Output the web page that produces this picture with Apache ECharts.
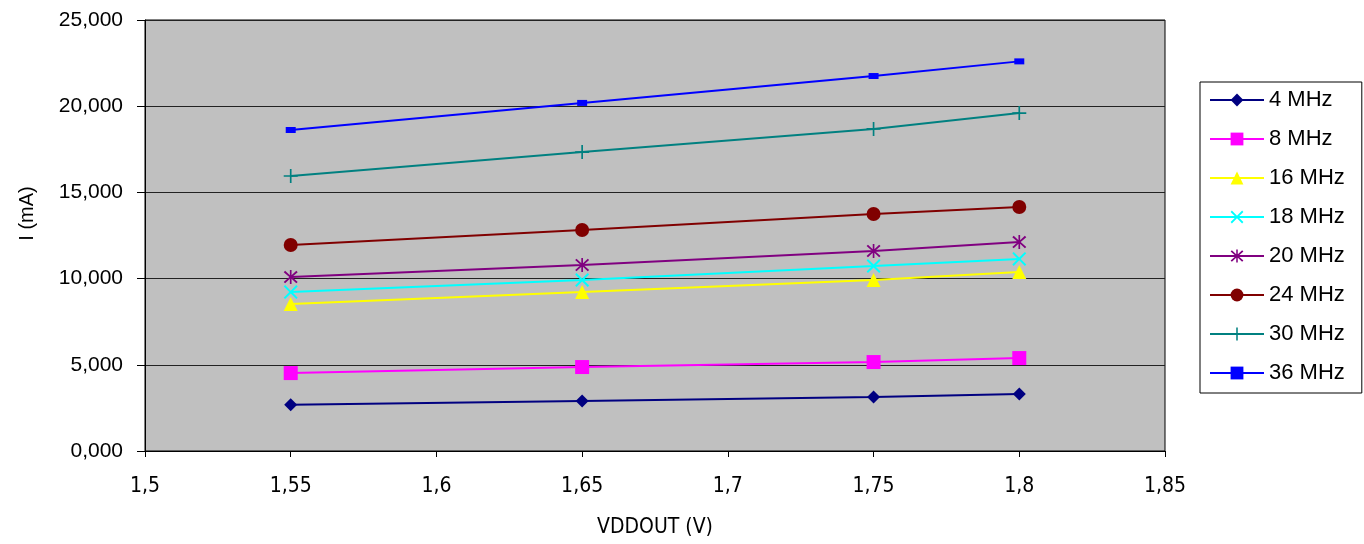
<!doctype html>
<html>
<head>
<meta charset="utf-8">
<title>I vs VDDOUT</title>
<script src="https://cdn.jsdelivr.net/npm/echarts@6/dist/echarts.min.js"></script>
<style>
  html, body { margin: 0; padding: 0; background: #fff; }
  #main { width: 1364px; height: 544px; }
</style>
</head>
<body>
<div id="main"></div>
<script type="text/javascript">
// x values (VDDOUT, V)
var vdd = [1.55, 1.65, 1.75, 1.8];

// current (mA) per frequency
var mhz4  = [2.68, 2.90, 3.13, 3.31];
var mhz8  = [4.52, 4.87, 5.16, 5.39];
var mhz16 = [8.53, 9.22, 9.92, 10.38];
var mhz18 = [9.22, 9.92, 10.73, 11.14];
var mhz20 = [10.09, 10.79, 11.60, 12.12];
var mhz24 = [11.95, 12.82, 13.75, 14.15];
var mhz30 = [15.95, 17.34, 18.68, 19.60];
var mhz36 = [18.62, 20.19, 21.75, 22.60];

var names = ['4 MHz', '8 MHz', '16 MHz', '18 MHz', '20 MHz', '24 MHz', '30 MHz', '36 MHz'];
var values = [mhz4, mhz8, mhz16, mhz18, mhz20, mhz24, mhz30, mhz36];
var colors = ['#000080', '#FF00FF', '#FFFF00', '#00FFFF', '#800080', '#800000', '#008080', '#0000FF'];

var X_PATH = 'path://M0,1 L1,0 L5,4 L9,0 L10,1 L6,5 L10,9 L9,10 L5,6 L1,10 L0,9 L4,5 Z';
var STAR_PATH = 'path://M0,1.5 L1,0.5 L5,4.3 L9,0.5 L10,1.5 L6,5 L10,8.5 L9,9.5 L5,5.7 L1,9.5 L0,8.5 L4,5 Z M4.4,0 L5.6,0 L5.6,10 L4.4,10 Z';
var PLUS_PATH = 'path://M4.4,0 L5.6,0 L5.6,4.4 L10,4.4 L10,5.6 L5.6,5.6 L5.6,10 L4.4,10 L4.4,5.6 L0,5.6 L0,4.4 L4.4,4.4 Z';
var BAR_PATH = 'path://M0,2 L10,2 L10,8 L0,8 Z';

var symbols = ['diamond', 'rect', 'triangle', X_PATH, STAR_PATH, 'circle', PLUS_PATH, BAR_PATH];
var sizes = [13, 14, 14, 14, 14, 14, 14, 10];

var myChart = echarts.init(document.getElementById('main'));

var series = [];
for (var i = 0; i < names.length; i++) {
    var pts = [];
    for (var j = 0; j < vdd.length; j++) pts.push([vdd[j], values[i][j]]);
    series.push({
        name: names[i],
        type: 'line',
        data: pts,
        symbol: symbols[i],
        symbolSize: sizes[i],
        symbolKeepAspect: true,
        showAllSymbol: true,
        itemStyle: { color: colors[i] },
        lineStyle: { color: colors[i], width: 2 },
        emphasis: { disabled: true },
        animation: false
    });
}

var labelFont = "'Liberation Sans', Arial, sans-serif";
var narrowFont = "'Liberation Sans Narrow', 'DejaVu Sans Condensed', 'Liberation Sans', sans-serif";

var option = {
    backgroundColor: '#ffffff',
    animation: false,
    grid: {
        left: 145, right: 199, top: 20, bottom: 93,
        show: true,
        backgroundColor: '#C0C0C0',
        borderColor: '#000',
        borderWidth: 1
    },
    legend: {
        orient: 'vertical',
        left: 1200,
        top: 82,
        padding: [7, 17, 9, 9],
        itemGap: 17,
        itemWidth: 54,
        itemHeight: 16,
        borderColor: '#000',
        borderWidth: 1,
        backgroundColor: '#fff',
        textStyle: { fontFamily: labelFont, fontSize: 22, color: '#000', lineHeight: 20 },
        data: names
    },
    xAxis: {
        type: 'value',
        min: 1.5,
        max: 1.85,
        interval: 0.05,
        name: 'VDDOUT (V)',
        nameLocation: 'middle',
        nameGap: 66,
        nameTextStyle: { fontFamily: narrowFont, fontSize: 21, color: '#000' },
        axisLine: { lineStyle: { color: '#000', width: 1 } },
        axisTick: { length: 6, lineStyle: { color: '#000' } },
        axisLabel: {
            margin: 25,
            fontFamily: narrowFont,
            fontSize: 21,
            color: '#000',
            formatter: function (v) { return String(+v.toFixed(2)).replace('.', ','); }
        },
        splitLine: { show: false }
    },
    yAxis: {
        type: 'value',
        min: 0,
        max: 25,
        interval: 5,
        name: 'I (mA)',
        nameLocation: 'middle',
        nameGap: 108,
        nameTextStyle: { fontFamily: labelFont, fontSize: 20, color: '#000', padding: [0, 0, 0, 44] },
        axisLine: { show: true, lineStyle: { color: '#000', width: 1 } },
        axisTick: { show: true, length: 8, lineStyle: { color: '#000' } },
        axisLabel: {
            margin: 22,
            fontFamily: labelFont,
            fontSize: 21,
            color: '#000',
            formatter: function (v) { return v.toFixed(3).replace('.', ','); }
        },
        splitLine: { lineStyle: { color: '#222', width: 1 } }
    },
    series: series
};
myChart.setOption(option);
</script>
</body>
</html>
